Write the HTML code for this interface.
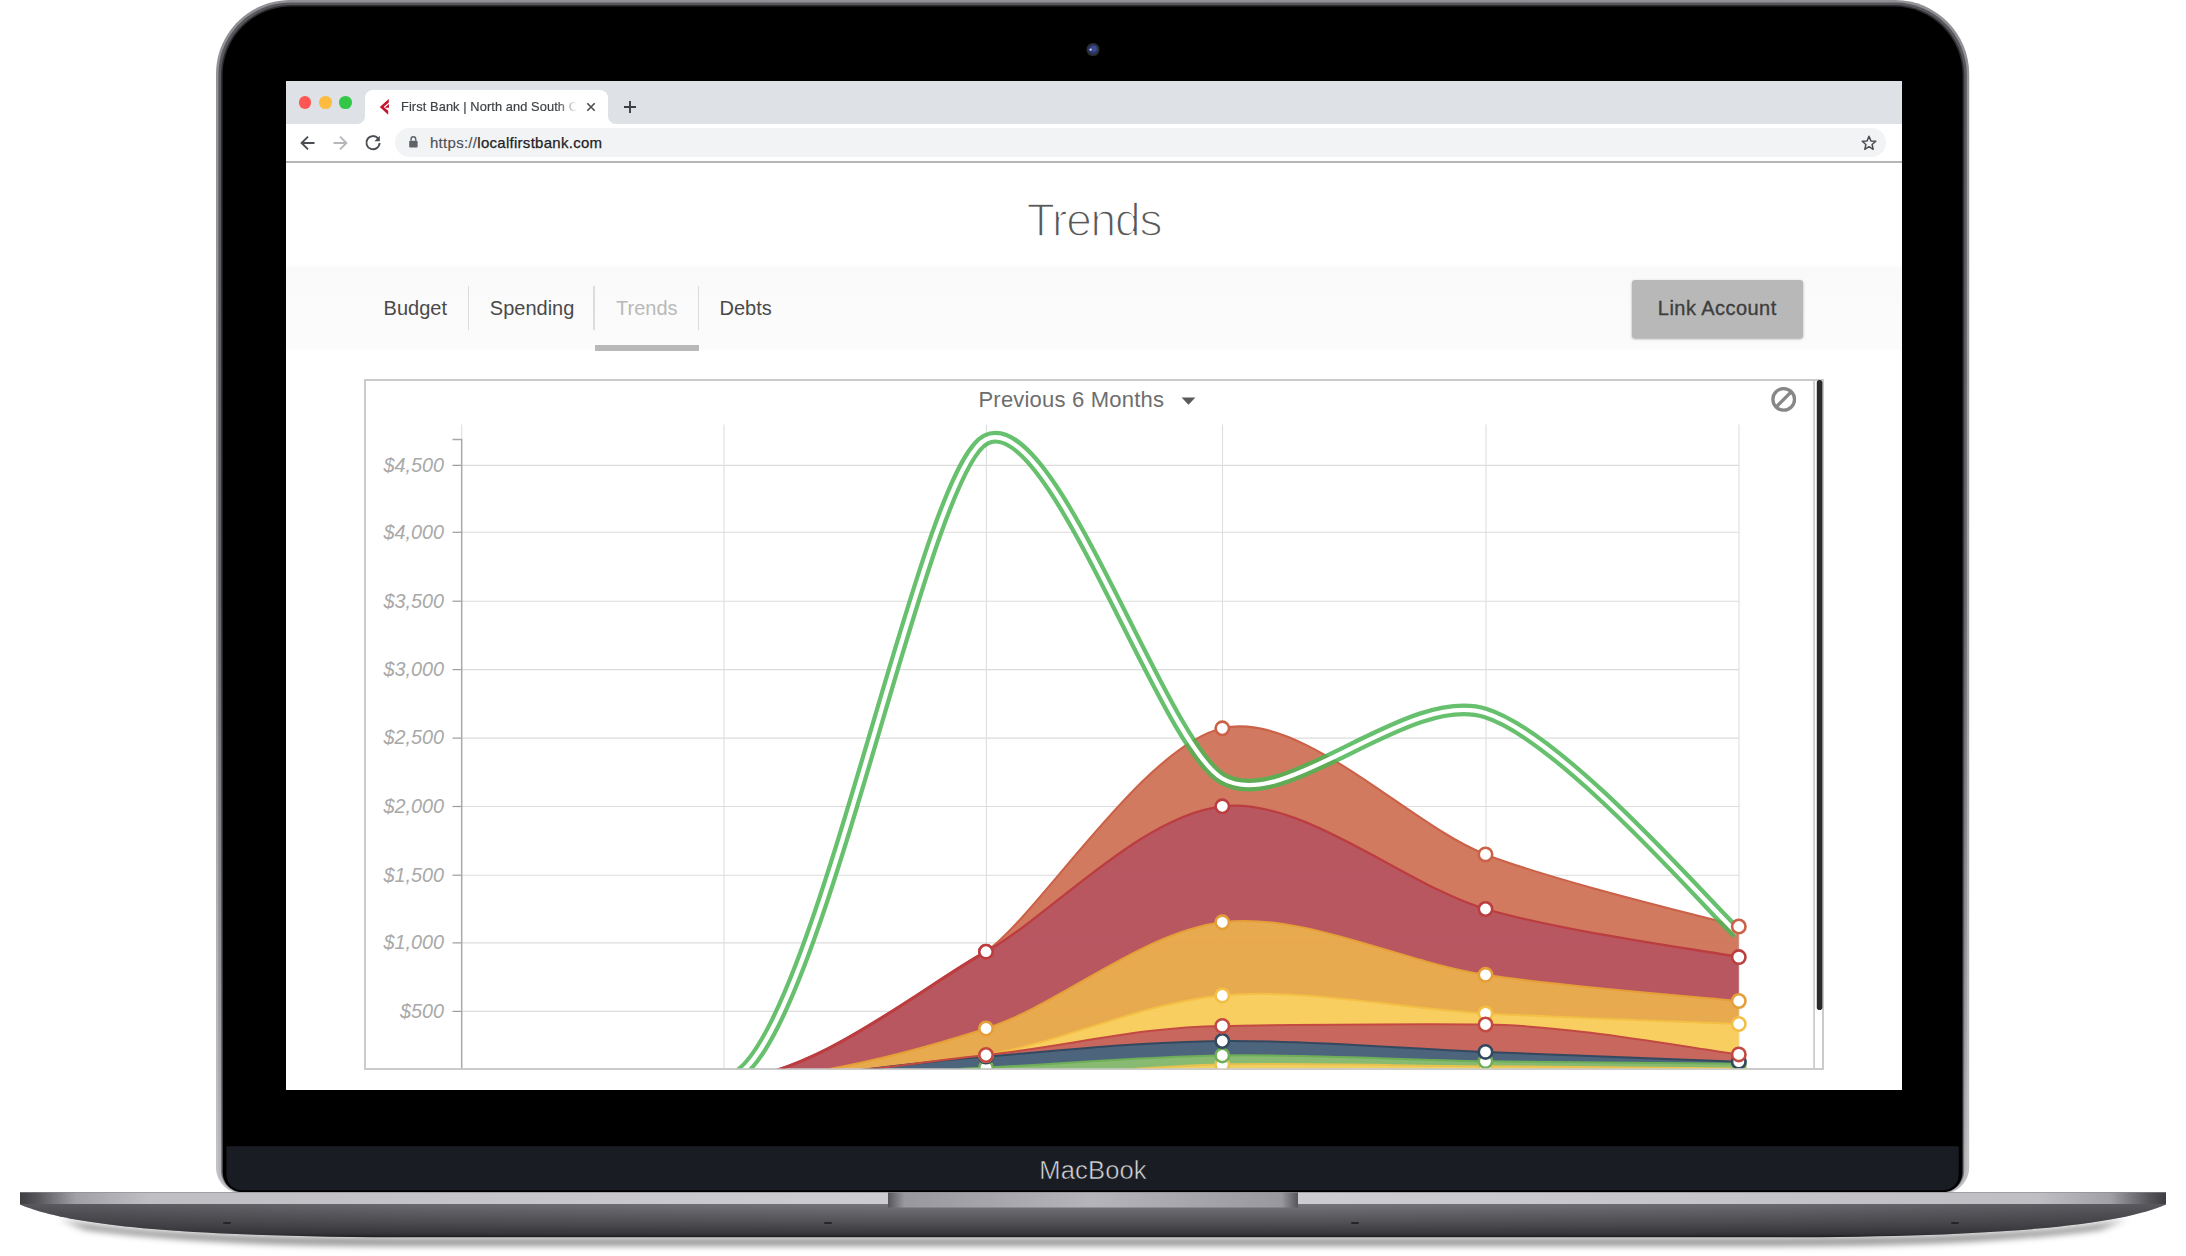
<!DOCTYPE html>
<html lang="en"><head><meta charset="utf-8"><title>First Bank | North and South Carolina</title>
<style>
html,body{margin:0;padding:0;background:#fff;}
body{width:2186px;height:1256px;position:relative;overflow:hidden;font-family:"Liberation Sans",sans-serif;}
.abs{position:absolute;}
#frame{position:absolute;left:0;top:0;}
#screen{position:absolute;left:286px;top:81px;width:1616px;height:1009px;background:#fff;overflow:hidden;}
#tabbar{position:absolute;left:0;top:0;width:1616px;height:43px;background:#dee1e6;}
#tab{position:absolute;left:79px;top:9px;width:243px;height:34px;background:#fff;border-radius:8px 8px 0 0;}
#tab:before,#tab:after{content:"";position:absolute;bottom:0;width:8px;height:8px;}
#tab:before{left:-8px;background:radial-gradient(circle at 0 0,rgba(255,255,255,0) 7.5px,#fff 8.5px);}
#tab:after{right:-8px;background:radial-gradient(circle at 100% 0,rgba(255,255,255,0) 7.5px,#fff 8.5px);}
.tl{position:absolute;top:15.2px;width:12.6px;height:12.6px;border-radius:50%;}
#tabtxt{position:absolute;left:115px;top:17.5px;font-size:12.8px;color:#3f4347;white-space:nowrap;width:178px;overflow:hidden;letter-spacing:.1px;-webkit-text-stroke:.2px #3f4347;
 -webkit-mask-image:linear-gradient(90deg,#000 156px,transparent 176px);mask-image:linear-gradient(90deg,#000 156px,transparent 176px);}
#toolbar{position:absolute;left:0;top:43px;width:1616px;height:37.2px;background:#fff;border-bottom:2px solid #b6b6b6;}
#pill{position:absolute;left:109px;top:4px;width:1491px;height:29px;border-radius:14.5px;background:#f1f3f4;}
#url{position:absolute;left:144px;top:10px;font-size:15px;color:#202124;white-space:nowrap;letter-spacing:.28px;-webkit-text-stroke:.25px #202124;}
#url span{color:#4d5054;-webkit-text-stroke:.15px #4d5054;}
#title{position:absolute;left:0;width:1616px;top:111px;text-align:center;font-size:46px;color:#585858;letter-spacing:-1.15px;-webkit-text-stroke:1.5px #fff;line-height:56px;}
#nav{position:absolute;left:0;top:184px;width:1616px;height:86.5px;background:linear-gradient(#fff,#f9f9f9 3px,#fbfbfb 55%,#fbfbfb 83px,#fff);}
.ni{position:absolute;top:30.5px;font-size:20px;line-height:24px;color:#4a4a4a;white-space:nowrap;}
.sep{position:absolute;top:21.3px;width:1.6px;height:44px;background:#dcdcdc;}
#ul{position:absolute;left:308.5px;top:79.5px;width:104.5px;height:6.5px;background:#b9b9b9;}
#btn{position:absolute;left:1345.5px;top:198.8px;width:171.5px;height:58px;background:#b8b8b8;border-radius:3px;box-shadow:0 1px 2.5px rgba(0,0,0,.35);
 font-size:20px;color:#3e3e3e;text-align:center;line-height:56px;letter-spacing:.45px;-webkit-text-stroke:.35px #3e3e3e;}
#chartbox{position:absolute;left:78px;top:297.5px;width:1460px;height:691.7px;border:2px solid #cbcbcb;box-sizing:border-box;}
#svgc{position:absolute;left:-286px;top:-81px;}
#macbook{position:absolute;left:0;width:2186px;top:1154.8px;text-align:center;font-size:25.6px;color:#d6d7da;line-height:30px;letter-spacing:.12px;-webkit-text-stroke:.55px #1a1c23;}
</style></head><body>
<svg id="frame" width="2186" height="1256" viewBox="0 0 2186 1256">
<defs>
<linearGradient id="rim" x1="0" y1="0" x2="0" y2="1"><stop offset="0" stop-color="#909095"/><stop offset=".6" stop-color="#a2a2a7"/><stop offset="1" stop-color="#c4c4c9"/></linearGradient><linearGradient id="rim3" x1="0" y1="0" x2="0" y2="1"><stop offset="0" stop-color="#2c2c30"/><stop offset=".5" stop-color="#3a3a3e"/><stop offset="1" stop-color="#77777c"/></linearGradient><linearGradient id="rim2" x1="0" y1="0" x2="0" y2="1"><stop offset="0" stop-color="#56565b"/><stop offset=".5" stop-color="#66666b"/><stop offset=".85" stop-color="#9c9ca1"/><stop offset="1" stop-color="#bcbcc1"/></linearGradient>
<linearGradient id="strip" x1="0" y1="0" x2="1" y2="0"><stop offset="0" stop-color="#3e3e42"/><stop offset=".008" stop-color="#55555a"/><stop offset=".026" stop-color="#a0a0a6"/><stop offset=".06" stop-color="#bebec3"/><stop offset=".5" stop-color="#d0d0d5"/><stop offset=".94" stop-color="#bebec3"/><stop offset=".974" stop-color="#a0a0a6"/><stop offset=".992" stop-color="#55555a"/><stop offset="1" stop-color="#3e3e42"/></linearGradient>
<linearGradient id="body" x1="0" y1="0" x2="0" y2="1"><stop offset="0" stop-color="#74747a"/><stop offset=".55" stop-color="#505055"/><stop offset=".88" stop-color="#37373b"/><stop offset="1" stop-color="#141416"/></linearGradient>
<linearGradient id="sidesh" x1="0" y1="0" x2="1" y2="0"><stop offset="0" stop-color="#2c2c30" stop-opacity=".4"/><stop offset=".18" stop-color="#2c2c30" stop-opacity=".15"/><stop offset=".4" stop-color="#2c2c30" stop-opacity="0"/><stop offset=".6" stop-color="#2c2c30" stop-opacity="0"/><stop offset=".82" stop-color="#2c2c30" stop-opacity=".15"/><stop offset="1" stop-color="#2c2c30" stop-opacity=".4"/></linearGradient>
<linearGradient id="notch" x1="0" y1="0" x2="1" y2="0"><stop offset="0" stop-color="#55555a"/><stop offset=".04" stop-color="#98989e"/><stop offset=".5" stop-color="#b4b4ba"/><stop offset=".96" stop-color="#98989e"/><stop offset="1" stop-color="#55555a"/></linearGradient>
<linearGradient id="shadow" x1="0" y1="0" x2="0" y2="1"><stop offset="0" stop-color="#000" stop-opacity=".42"/><stop offset=".5" stop-color="#000" stop-opacity=".1"/><stop offset="1" stop-color="#000" stop-opacity="0"/></linearGradient>
<filter id="blur" x="-5%" y="-200%" width="110%" height="500%"><feGaussianBlur stdDeviation="5 3.2"/></filter>
<clipPath id="baseclip"><path d="M20,1192H2166V1204.500C2126,1221.500 2036,1237.300 1766,1237.300H420C150,1237.300 60,1221.500 20,1204.500Z"/></clipPath>
</defs>
<!-- shadow under base -->
<g filter="url(#blur)"><path d="M60,1219C140,1235 300,1238 420,1238H1766C1886,1238 2046,1235 2126,1219L2100,1230C1986,1244 1886,1246 1766,1246H420C300,1246 200,1244 86,1230Z" fill="#000" fill-opacity=".42"/></g>
<!-- lid -->
<path d="M216,1167.5V74C216,33.3 249.3,0 290,0H1895.2C1935.9,0 1969.2,33.3 1969.2,74V1167.5C1969.2,1181.8 1957.5,1193.5 1943.2,1193.5H242C227.7,1193.5 216,1181.8 216,1167.5Z" fill="url(#rim)"/>
<path d="M218.4,1169V74.4C218.4,34.8 250.8,2.4 290.4,2.4H1894.8C1934.4,2.4 1966.8,34.8 1966.8,74.4V1169C1966.8,1182.2 1956.0,1193 1942.8,1193H242.4C229.2,1193 218.4,1182.2 218.4,1169Z" fill="url(#rim2)"/>
<path d="M221,1170.8V75C221,36.5 252.5,5 291,5H1894.2C1932.7,5 1964.2,36.5 1964.2,75V1170.8C1964.2,1182.9 1954.3,1192.8 1942.2,1192.8H243C230.9,1192.8 221,1182.9 221,1170.8Z" fill="url(#rim3)"/>
<path d="M222.6,1172.3V75.1C222.6,37.4 253.4,6.6 291.1,6.6H1894.1000000000001C1931.8,6.6 1962.6000000000001,37.4 1962.6000000000001,75.1V1172.3C1962.6000000000001,1183.3 1953.6,1192.3 1942.6000000000001,1192.3H242.6C231.6,1192.3 222.6,1183.3 222.6,1172.3Z" fill="#000"/>
<path d="M226.500,1146.300H1958.700V1174C1958.700,1184 1952,1190.300 1942,1190.300H243C233,1190.300 226.500,1184 226.500,1174Z" fill="#1a1c23"/>
<circle cx="1093" cy="49.500" r="6.600" fill="#2b2e2a"/><circle cx="1093" cy="49.500" r="5" fill="#2a3570"/><circle cx="1093.800" cy="48.800" r="3" fill="#3d4c8e"/><circle cx="1090.600" cy="49.600" r="1.200" fill="#c9d2e6"/>
<!-- base -->
<g clip-path="url(#baseclip)">
<rect x="20" y="1192" width="2146" height="12" fill="url(#strip)"/>
<rect x="20" y="1204" width="2146" height="34" fill="url(#body)"/>
<rect x="888" y="1192" width="410" height="15.500" fill="url(#notch)"/>
<rect x="20" y="1204" width="2146" height="34" fill="url(#sidesh)"/>
<rect x="20" y="1192" width="2146" height="1" fill="#8a8a8f" opacity=".6"/>
<rect x="223" y="1222" width="8" height="2" rx="1" fill="#26262a"/><rect x="824" y="1222" width="8" height="2" rx="1" fill="#26262a"/><rect x="1351" y="1222" width="8" height="2" rx="1" fill="#26262a"/><rect x="1951" y="1222" width="8" height="2" rx="1" fill="#26262a"/>
</g>
</svg>
<div id="macbook">MacBook</div>
<div id="screen">
 <div id="tabbar">
  <div class="tl" style="left:12.5px;background:#fc5753;"></div>
  <div class="tl" style="left:33px;background:#fdbc40;"></div>
  <div class="tl" style="left:53.4px;background:#33c748;"></div>
  <div id="tab"></div>
  <svg class="abs" style="left:92px;top:17px" width="14" height="18" viewBox="0 0 14 18"><path d="M10.800,1L1.800,9L5.600,9L10.800,4.600Z M1.800,9L10.200,16.800L10.200,12.800L5.600,9Z M11,6L6.600,9.800L11,9.800Z" fill="#c4122f"/></svg>
  <div id="tabtxt">First Bank | North and South Carolina</div>
  <svg class="abs" style="left:299px;top:20px" width="12" height="12" viewBox="0 0 12 12"><path d="M2.300,2.300L9.700,9.700M9.700,2.300L2.300,9.700" stroke="#4a4e52" stroke-width="1.600" fill="none"/></svg>
  <svg class="abs" style="left:337px;top:19px" width="14" height="14" viewBox="0 0 14 14"><path d="M7,1V13M1,7H13" stroke="#3c4043" stroke-width="1.900" fill="none"/></svg>
 </div>
 <div id="toolbar">
  <div id="pill"></div>
  <svg class="abs" style="left:12.300px;top:8.500px" width="20" height="20" viewBox="0 0 20 20"><path d="M16.500,10H3.800M10,3.600L3.600,10L10,16.400" stroke="#4a4d51" stroke-width="1.900" fill="none"/></svg>
  <svg class="abs" style="left:44.300px;top:8.500px" width="20" height="20" viewBox="0 0 20 20"><path d="M3.500,10H16.200M10,3.600L16.400,10L10,16.400" stroke="#b4b6b9" stroke-width="1.900" fill="none"/></svg>
  <svg class="abs" style="left:77px;top:8.500px" width="20" height="20" viewBox="0 0 20 20"><path d="M15.200,5.600A6.600,6.600 0 1 0 16.600,10" stroke="#4a4d51" stroke-width="1.900" fill="none"/><path d="M16.800,2.800V8.200H11.400Z" fill="#4a4d51"/></svg>
  <svg class="abs" style="left:122px;top:11.300px" width="10.800" height="14.400" viewBox="0 0 12 16"><rect x="1.300" y="6.300" width="9.400" height="7.700" rx="1.200" fill="#5f6368"/><path d="M3.400,6.500V4.600A2.600,2.600 0 0 1 8.600,4.600V6.500" stroke="#5f6368" stroke-width="1.600" fill="none"/></svg>
  <div id="url"><span>https://</span>localfirstbank.com</div>
  <svg class="abs" style="left:1574px;top:10px" width="18" height="18" viewBox="0 0 18 18"><path d="M9,2.300L10.900,6.900L15.800,7.300L12.100,10.500L13.200,15.300L9,12.700L4.800,15.300L5.900,10.500L2.200,7.300L7.100,6.900Z" stroke="#4a4d51" stroke-width="1.500" fill="none" stroke-linejoin="round"/></svg>
 </div>
 <div id="title">Trends</div>
 <div id="nav">
  <div class="ni" style="left:97.600px">Budget</div>
  <div class="sep" style="left:181.600px"></div>
  <div class="ni" style="left:203.800px">Spending</div>
  <div class="sep" style="left:307.300px"></div>
  <div class="ni" style="left:330px;color:#b9b9b9">Trends</div>
  <div class="sep" style="left:411.500px"></div>
  <div class="ni" style="left:433.500px">Debts</div>
  <div id="ul"></div>
 </div>
 <div id="btn">Link Account</div>
 <div id="chartbox"></div>
 <svg id="svgc" class="abs" width="2186" height="1256" viewBox="0 0 2186 1256" style="font-family:'Liberation Sans',sans-serif">
  <defs><clipPath id="cc"><rect x="366" y="381" width="1447.500" height="687.200"/></clipPath></defs>
  <g clip-path="url(#cc)">
  <line x1="461" x2="1739" y1="465.4" y2="465.4" stroke="#dcdcdc" stroke-width="1.1"/><line x1="452.500" x2="461.500" y1="465.4" y2="465.4" stroke="#9c9c9c" stroke-width="1.2"/>
<line x1="461" x2="1739" y1="532.3" y2="532.3" stroke="#dcdcdc" stroke-width="1.1"/><line x1="452.500" x2="461.500" y1="532.3" y2="532.3" stroke="#9c9c9c" stroke-width="1.2"/>
<line x1="461" x2="1739" y1="601.2" y2="601.2" stroke="#dcdcdc" stroke-width="1.1"/><line x1="452.500" x2="461.500" y1="601.2" y2="601.2" stroke="#9c9c9c" stroke-width="1.2"/>
<line x1="461" x2="1739" y1="669.6" y2="669.6" stroke="#dcdcdc" stroke-width="1.1"/><line x1="452.500" x2="461.500" y1="669.6" y2="669.6" stroke="#9c9c9c" stroke-width="1.2"/>
<line x1="461" x2="1739" y1="738.1" y2="738.1" stroke="#dcdcdc" stroke-width="1.1"/><line x1="452.500" x2="461.500" y1="738.1" y2="738.1" stroke="#9c9c9c" stroke-width="1.2"/>
<line x1="461" x2="1739" y1="806.5" y2="806.5" stroke="#dcdcdc" stroke-width="1.1"/><line x1="452.500" x2="461.500" y1="806.5" y2="806.5" stroke="#9c9c9c" stroke-width="1.2"/>
<line x1="461" x2="1739" y1="875.2" y2="875.2" stroke="#dcdcdc" stroke-width="1.1"/><line x1="452.500" x2="461.500" y1="875.2" y2="875.2" stroke="#9c9c9c" stroke-width="1.2"/>
<line x1="461" x2="1739" y1="942.9" y2="942.9" stroke="#dcdcdc" stroke-width="1.1"/><line x1="452.500" x2="461.500" y1="942.9" y2="942.9" stroke="#9c9c9c" stroke-width="1.2"/>
<line x1="461" x2="1739" y1="1011.4" y2="1011.4" stroke="#dcdcdc" stroke-width="1.1"/><line x1="452.500" x2="461.500" y1="1011.4" y2="1011.4" stroke="#9c9c9c" stroke-width="1.2"/>
<line x1="724" x2="724" y1="424.5" y2="1080" stroke="#dedede" stroke-width="1.1"/>
<line x1="986.4" x2="986.4" y1="424.5" y2="1080" stroke="#dedede" stroke-width="1.1"/>
<line x1="1222.5" x2="1222.5" y1="424.5" y2="1080" stroke="#dedede" stroke-width="1.1"/>
<line x1="1486" x2="1486" y1="424.5" y2="1080" stroke="#dedede" stroke-width="1.1"/>
<line x1="1739" x2="1739" y1="424.5" y2="1080" stroke="#dedede" stroke-width="1.1"/>
<line x1="461.700" x2="461.700" y1="424.500" y2="440" stroke="#dedede" stroke-width="1.100"/><path d="M452.500,439.500H461.700V1080" fill="none" stroke="#a9a9a9" stroke-width="1.5"/>

  <g font-size="19.800" font-style="italic" fill="#a9a9a9"><text x="444" y="471.7" text-anchor="end">$4,500</text>
<text x="444" y="538.6" text-anchor="end">$4,000</text>
<text x="444" y="607.5" text-anchor="end">$3,500</text>
<text x="444" y="675.9" text-anchor="end">$3,000</text>
<text x="444" y="744.4" text-anchor="end">$2,500</text>
<text x="444" y="812.8" text-anchor="end">$2,000</text>
<text x="444" y="881.5" text-anchor="end">$1,500</text>
<text x="444" y="949.2" text-anchor="end">$1,000</text>
<text x="444" y="1017.7" text-anchor="end">$500</text>
</g>
  <g opacity=".975"><path d="M461.5,1079.6C505.2,1079.6,636.6,1079.6,724,1079.6C811.4,1079.6,931.1,991,986,951.7C1040.9,912.4,1143.3,746.7,1222.3,728.3C1301.3,709.9,1410.4,825.7,1485.5,854.4C1560.6,883.1,1699.7,915.4,1738.8,926.5L1738.8,957.1C1698.1,949.4,1564.9,932,1485.5,909C1406.1,886,1304.5,797,1222.3,806.3C1140.1,815.6,1049.7,916.6,986,951.7C922.3,986.8,811.4,1079.6,724,1079.6C636.6,1079.6,505.2,1079.6,461.5,1079.6Z" fill="#d1775d"/>
<path d="M461.5,1079.6C505.2,1079.6,636.6,1079.6,724,1079.6C811.4,1079.6,922.3,986.8,986,951.7C1049.7,916.6,1140.1,815.6,1222.3,806.3C1304.5,797,1406.1,886,1485.5,909C1564.9,932,1698.1,949.4,1738.8,957.1L1738.8,1001C1697,996.7,1569.7,987.5,1485.5,974.8C1401.3,962.1,1304.3,912.1,1222.3,922.3C1140.3,932.5,1061.2,1004.3,986,1028.5C910.8,1052.7,811.4,1079.6,724,1079.6C636.6,1079.6,505.2,1079.6,461.5,1079.6Z" fill="#b8535e"/>
<path d="M461.5,1079.6C505.2,1079.6,636.6,1079.6,724,1079.6C811.4,1079.6,910.8,1052.7,986,1028.5C1061.2,1004.3,1140.3,932.5,1222.3,922.3C1304.3,912.1,1401.3,962.1,1485.5,974.8C1569.7,987.5,1697,996.7,1738.8,1001L1738.8,1024C1696.7,1022.2,1571.3,1018.1,1485.5,1013.4C1399.7,1008.7,1304.9,987.9,1222.3,995.5C1139.7,1003.1,1066.6,1041.1,986,1055C905.4,1068.9,811.4,1079.6,724,1079.6C636.6,1079.6,505.2,1079.6,461.5,1079.6Z" fill="#e8a84b"/>
<path d="M461.5,1079.6C505.2,1079.6,636.6,1079.6,724,1079.6C811.4,1079.6,905.4,1068.9,986,1055C1066.6,1041.1,1139.7,1003.1,1222.3,995.5C1304.9,987.9,1399.7,1008.7,1485.5,1013.4C1571.3,1018.1,1696.7,1022.2,1738.8,1024L1738.8,1054.4C1697.2,1049.5,1571.6,1025.4,1485.5,1024.5C1399.4,1023.6,1305.5,1024.9,1222.3,1025.9C1139.1,1026.9,1068.1,1046.1,986,1055C903.9,1063.9,811.4,1079.6,724,1079.6C636.6,1079.6,505.2,1079.6,461.5,1079.6Z" fill="#f8cd5d"/>
<path d="M461.5,1079.6C505.2,1079.6,636.6,1079.6,724,1079.6C811.4,1079.6,903.9,1063.9,986,1055C1068.1,1046.1,1139.1,1026.9,1222.3,1025.9C1305.5,1024.9,1399.4,1023.6,1485.5,1024.5C1571.6,1025.4,1697.2,1049.5,1738.8,1054.4L1738.8,1061.7C1696.6,1060.1,1571.4,1055.3,1485.5,1051.9C1399.6,1048.5,1305.5,1040,1222.3,1041C1139.1,1042,1068.6,1050.2,986,1056.5C903.4,1062.8,811.4,1079.6,724,1079.6C636.6,1079.6,505.2,1079.6,461.5,1079.6Z" fill="#c7645b"/>
<path d="M461.5,1079.6C505.2,1079.6,636.6,1079.6,724,1079.6C811.4,1079.6,903.4,1062.8,986,1056.5C1068.6,1050.2,1139.1,1042,1222.3,1041C1305.5,1040,1399.6,1048.5,1485.5,1051.9C1571.4,1055.3,1696.6,1060.1,1738.8,1061.7L1738.8,1063.8C1696.6,1063.4,1571.6,1062.6,1485.5,1061.2C1399.4,1059.8,1305.5,1054.2,1222.3,1055.4C1139.1,1056.6,1068.9,1063.5,986,1067.5C903.1,1071.5,811.4,1079.6,724,1079.6C636.6,1079.6,505.2,1079.6,461.5,1079.6Z" fill="#49617a"/>
<path d="M461.5,1079.6C505.2,1079.6,636.6,1079.6,724,1079.6C811.4,1079.6,903.1,1071.5,986,1067.5C1068.9,1063.5,1139.1,1056.6,1222.3,1055.4C1305.5,1054.2,1399.4,1059.8,1485.5,1061.2C1571.6,1062.6,1696.6,1063.4,1738.8,1063.8L1738.8,1068.5C1696.6,1068.1,1571.6,1066.8,1485.5,1066.3C1399.4,1065.8,1305.5,1062.9,1222.3,1064.5C1139.1,1066.1,1069,1076.5,986,1078C903,1079.5,811.4,1079.6,724,1079.6C636.6,1079.6,505.2,1079.6,461.5,1079.6Z" fill="#86b96f"/>
<path d="M461.5,1079.6C505.2,1079.6,636.6,1079.6,724,1079.6C811.4,1079.6,903,1079.5,986,1078C1069,1076.5,1139.1,1066.1,1222.3,1064.5C1305.5,1062.9,1399.4,1065.8,1485.5,1066.3C1571.6,1066.8,1696.6,1068.1,1738.8,1068.5L1738.8,1079.6C1696.6,1079.6,1571.6,1079.6,1485.5,1079.6C1399.4,1079.6,1305.5,1079.6,1222.3,1079.6C1139,1079.6,1069,1079.6,986,1079.6C903,1079.6,811.4,1079.6,724,1079.6C636.6,1079.6,505.2,1079.6,461.5,1079.6Z" fill="#f0cf62"/>
</g>
  <path d="M724,1079.6C811.4,1079.6,903,1079.5,986,1078C1069,1076.5,1139.1,1066.1,1222.3,1064.5C1305.5,1062.9,1399.4,1065.8,1485.5,1066.3C1571.6,1066.8,1696.6,1068.1,1738.8,1068.5" fill="none" stroke="#e8c24e" stroke-width="2"/>
<path d="M724,1079.6C811.4,1079.6,903.1,1071.5,986,1067.5C1068.9,1063.5,1139.1,1056.6,1222.3,1055.4C1305.5,1054.2,1399.4,1059.8,1485.5,1061.2C1571.6,1062.6,1696.6,1063.4,1738.8,1063.8" fill="none" stroke="#6fae58" stroke-width="2"/>
<path d="M724,1079.6C811.4,1079.6,903.4,1062.8,986,1056.5C1068.6,1050.2,1139.1,1042,1222.3,1041C1305.5,1040,1399.6,1048.5,1485.5,1051.9C1571.4,1055.3,1696.6,1060.1,1738.8,1061.7" fill="none" stroke="#33495f" stroke-width="2"/>
<path d="M986,1055C1066.6,1041.1,1139.7,1003.1,1222.3,995.5C1304.9,987.9,1399.7,1008.7,1485.5,1013.4C1571.3,1018.1,1696.7,1022.2,1738.8,1024" fill="none" stroke="#f3bf45" stroke-width="2"/>
<path d="M724,1079.6C811.4,1079.6,903.9,1063.9,986,1055C1068.1,1046.1,1139.1,1026.9,1222.3,1025.9C1305.5,1024.9,1399.4,1023.6,1485.5,1024.5C1571.6,1025.4,1697.2,1049.5,1738.8,1054.4" fill="none" stroke="#c24a42" stroke-width="2"/>
<path d="M724,1079.6C811.4,1079.6,910.8,1052.7,986,1028.5C1061.2,1004.3,1140.3,932.5,1222.3,922.3C1304.3,912.1,1401.3,962.1,1485.5,974.8C1569.7,987.5,1697,996.7,1738.8,1001" fill="none" stroke="#e59f38" stroke-width="2"/>
<path d="M986,951.7C1040.9,912.4,1143.3,746.7,1222.3,728.3C1301.3,709.9,1410.4,825.7,1485.5,854.4C1560.6,883.1,1699.7,915.4,1738.8,926.5" fill="none" stroke="#cb6147" stroke-width="2.1"/>
<path d="M724,1079.6C811.4,1079.6,922.3,986.8,986,951.7C1049.7,916.6,1140.1,815.6,1222.3,806.3C1304.5,797,1406.1,886,1485.5,909C1564.9,932,1698.1,949.4,1738.8,957.1" fill="none" stroke="#bb3d3f" stroke-width="2.3"/>
<path d="M724,1079.6C811.4,1079.6,922.3,986.8,986,951.7" fill="none" stroke="#bb3d3f" stroke-width="3.200"/>

  <path d="M461.5,1079.6C505.2,1079.6,636.6,1079.6,724,1079.6C811.4,1079.6,919.8,472.9,986,439.5C1052.2,406.1,1160.7,742,1222.3,778.5C1283.9,815,1407.3,688.5,1485.5,713C1563.7,737.5,1713.6,912.4,1737.4,933.2" fill="none" stroke="#4bb554" stroke-width="12.800" stroke-opacity=".85"/>
  <path d="M461.5,1079.6C505.2,1079.6,636.6,1079.6,724,1079.6C811.4,1079.6,919.8,472.9,986,439.5C1052.2,406.1,1160.7,742,1222.3,778.5C1283.9,815,1407.3,688.5,1485.5,713C1563.7,737.5,1713.6,912.4,1737.4,933.2" fill="none" stroke="#fff" stroke-width="4.300"/>
  <circle cx="986" cy="1078" r="6.700" fill="#fff" stroke="#e8c24e" stroke-width="2.600"/>
<circle cx="1222.3" cy="1064.5" r="6.700" fill="#fff" stroke="#e8c24e" stroke-width="2.600"/>
<circle cx="1485.5" cy="1066.3" r="6.700" fill="#fff" stroke="#e8c24e" stroke-width="2.600"/>
<circle cx="1738.8" cy="1068.5" r="6.700" fill="#fff" stroke="#e8c24e" stroke-width="2.600"/>
<circle cx="986" cy="1067.5" r="6.700" fill="#fff" stroke="#6fae58" stroke-width="2.600"/>
<circle cx="1222.3" cy="1055.4" r="6.700" fill="#fff" stroke="#6fae58" stroke-width="2.600"/>
<circle cx="1485.5" cy="1061.2" r="6.700" fill="#fff" stroke="#6fae58" stroke-width="2.600"/>
<circle cx="1738.8" cy="1063.8" r="6.700" fill="#fff" stroke="#6fae58" stroke-width="2.600"/>
<circle cx="986" cy="1056.5" r="6.700" fill="#fff" stroke="#33495f" stroke-width="2.600"/>
<circle cx="1222.3" cy="1041" r="6.700" fill="#fff" stroke="#33495f" stroke-width="2.600"/>
<circle cx="1485.5" cy="1051.9" r="6.700" fill="#fff" stroke="#33495f" stroke-width="2.600"/>
<circle cx="1738.8" cy="1061.7" r="6.700" fill="#fff" stroke="#33495f" stroke-width="2.600"/>
<circle cx="986" cy="1055" r="6.700" fill="#fff" stroke="#f3bf45" stroke-width="2.600"/>
<circle cx="1222.3" cy="995.5" r="6.700" fill="#fff" stroke="#f3bf45" stroke-width="2.600"/>
<circle cx="1485.5" cy="1013.4" r="6.700" fill="#fff" stroke="#f3bf45" stroke-width="2.600"/>
<circle cx="1738.8" cy="1024" r="6.700" fill="#fff" stroke="#f3bf45" stroke-width="2.600"/>
<circle cx="986" cy="1055" r="6.700" fill="#fff" stroke="#c24a42" stroke-width="2.600"/>
<circle cx="1222.3" cy="1025.9" r="6.700" fill="#fff" stroke="#c24a42" stroke-width="2.600"/>
<circle cx="1485.5" cy="1024.5" r="6.700" fill="#fff" stroke="#c24a42" stroke-width="2.600"/>
<circle cx="1738.8" cy="1054.4" r="6.700" fill="#fff" stroke="#c24a42" stroke-width="2.600"/>
<circle cx="986" cy="1028.5" r="6.700" fill="#fff" stroke="#e59f38" stroke-width="2.600"/>
<circle cx="1222.3" cy="922.3" r="6.700" fill="#fff" stroke="#e59f38" stroke-width="2.600"/>
<circle cx="1485.5" cy="974.8" r="6.700" fill="#fff" stroke="#e59f38" stroke-width="2.600"/>
<circle cx="1738.8" cy="1001" r="6.700" fill="#fff" stroke="#e59f38" stroke-width="2.600"/>
<circle cx="986" cy="951.7" r="6.700" fill="#fff" stroke="#cb6147" stroke-width="2.600"/>
<circle cx="1222.3" cy="728.3" r="6.700" fill="#fff" stroke="#cb6147" stroke-width="2.600"/>
<circle cx="1485.5" cy="854.4" r="6.700" fill="#fff" stroke="#cb6147" stroke-width="2.600"/>
<circle cx="1738.8" cy="926.5" r="6.700" fill="#fff" stroke="#cb6147" stroke-width="2.600"/>
<circle cx="986" cy="951.7" r="6.700" fill="#fff" stroke="#bb3d3f" stroke-width="2.600"/>
<circle cx="1222.3" cy="806.3" r="6.700" fill="#fff" stroke="#bb3d3f" stroke-width="2.600"/>
<circle cx="1485.5" cy="909" r="6.700" fill="#fff" stroke="#bb3d3f" stroke-width="2.600"/>
<circle cx="1738.8" cy="957.1" r="6.700" fill="#fff" stroke="#bb3d3f" stroke-width="2.600"/>

  </g>
  <text x="1071.300" y="406.500" text-anchor="middle" font-size="22" letter-spacing=".2" fill="#6e6e6e">Previous 6 Months</text>
  <path d="M1181.600,397.500H1195.400L1188.500,404.800Z" fill="#5a5a5a"/>
  <circle cx="1783.700" cy="399.400" r="10.800" fill="none" stroke="#878787" stroke-width="3.300"/><path d="M1776.200,406.900L1791.200,391.900" stroke="#878787" stroke-width="3.300"/>
  <rect x="1813.200" y="380" width="1.800" height="689" fill="#cdcdcd"/>
  <rect x="1816.800" y="380" width="5.600" height="630" rx="2.800" fill="#2b2b2b"/>
 </svg>
</div>
</body></html>
